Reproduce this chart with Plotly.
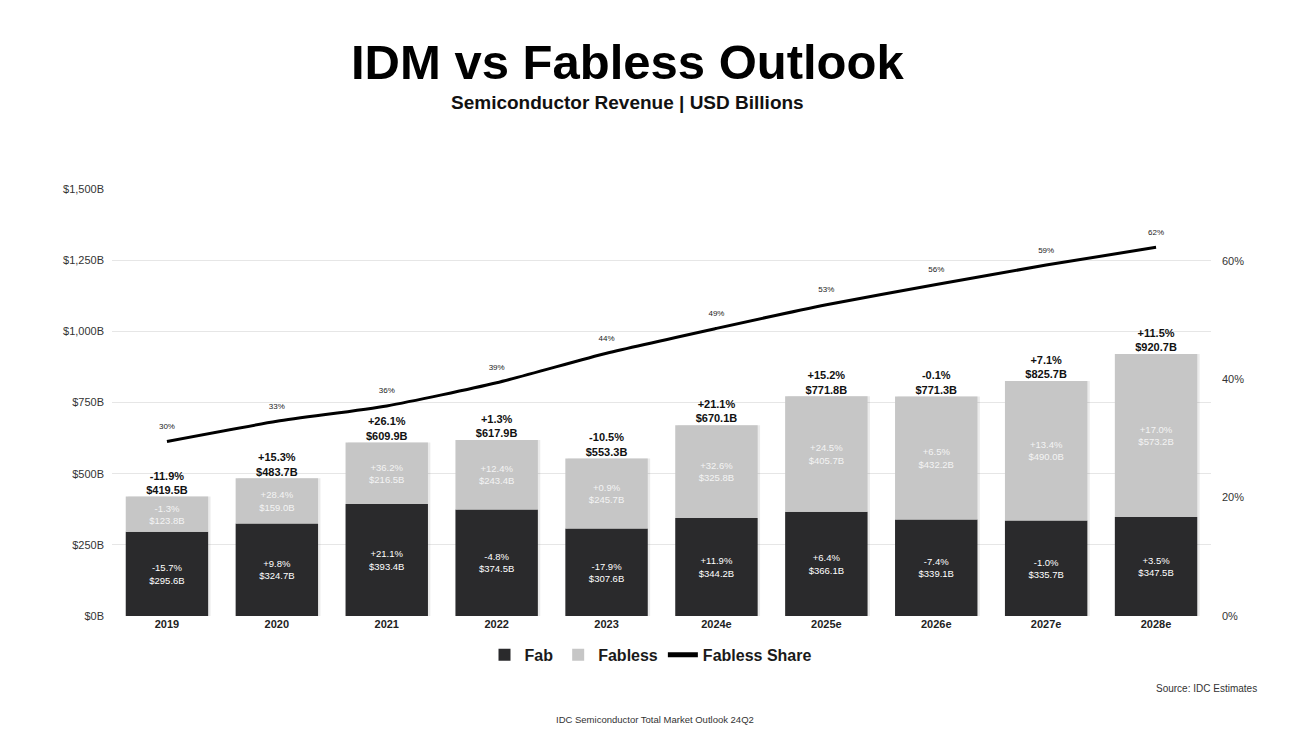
import plotly.graph_objects as go

years = ["2019", "2020", "2021", "2022", "2023", "2024e", "2025e", "2026e", "2027e", "2028e"]
fab = [295.6, 324.7, 393.4, 374.5, 307.6, 344.2, 366.1, 339.1, 335.7, 347.5]
fabless = [123.8, 159.0, 216.5, 243.4, 245.7, 325.8, 405.7, 432.2, 490.0, 573.2]
totals = [419.5, 483.7, 609.9, 617.9, 553.3, 670.1, 771.8, 771.3, 825.7, 920.7]
fab_growth = [-15.7, 9.8, 21.1, -4.8, -17.9, 11.9, 6.4, -7.4, -1.0, 3.5]
fabless_growth = [-1.3, 28.4, 36.2, 12.4, 0.9, 32.6, 24.5, 6.5, 13.4, 17.0]
total_growth = [-11.9, 15.3, 26.1, 1.3, -10.5, 21.1, 15.2, -0.1, 7.1, 11.5]
fabless_share = [0.295, 0.329, 0.355, 0.394, 0.444, 0.486, 0.526, 0.560, 0.593, 0.623]
left_ticks = [0, 250, 500, 750, 1000, 1250, 1500]
right_ticks = [0, 0.2, 0.4, 0.6]

FONT = "Liberation Sans, Arial, sans-serif"
FAB_C = "#2a2a2c"
FABLESS_C = "#c6c6c6"
BAR_W = 0.75


def pct(g):
    return f"{g:+.1f}%"


fig = go.Figure()

# soft drop shadow behind the stacks
fig.add_trace(go.Bar(
    x=years, y=totals, width=BAR_W, offset=-BAR_W / 2 + 0.022,
    marker=dict(color="rgba(0,0,0,0.08)", line=dict(width=0)),
    showlegend=False, hoverinfo="skip"))

fig.add_trace(go.Bar(
    name="Fab", x=years, y=fab, width=BAR_W, offset=-BAR_W / 2,
    marker=dict(color=FAB_C, line=dict(width=0)),
    text=[f"{pct(g)}<br>${v:.1f}B" for g, v in zip(fab_growth, fab)],
    texttemplate="%{text}",
    textposition="inside", insidetextanchor="middle", textangle=0,
    constraintext="none",
    textfont=dict(family=FONT, size=9.5, color="white")))

fig.add_trace(go.Bar(
    name="Fabless", x=years, y=fabless, base=fab, width=BAR_W, offset=-BAR_W / 2,
    marker=dict(color=FABLESS_C, line=dict(width=0)),
    text=[f"{pct(g)}<br>${v:.1f}B" for g, v in zip(fabless_growth, fabless)],
    texttemplate="%{text}",
    textposition="inside", insidetextanchor="middle", textangle=0,
    constraintext="none",
    textfont=dict(family=FONT, size=9.5, color="#f4f4f4")))

fig.add_trace(go.Scatter(
    name="Fabless Share", x=years, y=fabless_share, yaxis="y2",
    mode="lines+text",
    line=dict(color="black", width=3, shape="spline", smoothing=0.6),
    text=[f"{round(v * 100):.0f}%<br> " for v in fabless_share],
    textposition="top center",
    textfont=dict(family=FONT, size=8, color="#222")))

# total labels above bars
fig.add_trace(go.Scatter(
    x=years, y=totals, mode="text",
    text=[f"<b>{pct(g)}<br>${t:.1f}B</b>" for g, t in zip(total_growth, totals)],
    textposition="top center",
    textfont=dict(family=FONT, size=11, color="#111"),
    showlegend=False, hoverinfo="skip"))

fig.update_layout(
    width=1310, height=736,
    paper_bgcolor="white", plot_bgcolor="white",
    barmode="overlay",
    margin=dict(l=112, r=99, t=189, b=120),
    font=dict(family=FONT, color="#333"),
    showlegend=True,
    legend=dict(orientation="h", x=0.49, xanchor="center", y=-0.091, yanchor="middle",
                font=dict(family=FONT, size=16, color="#1a1a1a", weight="bold"),
                itemsizing="constant", traceorder="normal"),
    xaxis=dict(tickfont=dict(family=FONT, size=11, color="#222", weight="bold"),
               showgrid=False, showline=False, ticks=""),
    yaxis=dict(range=[0, 1500], tickvals=left_ticks,
               ticktext=[f"${v:,}B" for v in left_ticks],
               tickfont=dict(family=FONT, size=11, color="#333"),
               gridcolor="#e6e6e6", gridwidth=1, zeroline=False, showline=False,
               ticks="", ticklabelstandoff=7),
    yaxis2=dict(overlaying="y", side="right", range=[0, 0.7215],
                tickvals=right_ticks, ticktext=[f"{round(v * 100)}%" for v in right_ticks],
                tickfont=dict(family=FONT, size=11, color="#333"),
                showgrid=False, zeroline=False, showline=False,
                ticklabelstandoff=10),
)

# pixel-placed annotations converted to paper coordinates
L, R, T, B = 112, 99, 189, 120
pw, ph = 1310 - L - R, 736 - T - B


def px(x, y):
    return (x - L) / pw, ((736 - y) - B) / ph


for text, x, y, size, anchor, color in [
    ("<b>IDM vs Fabless Outlook</b>", 627, 62, 49, "center", "#000"),
    ("<b>Semiconductor Revenue | USD Billions</b>", 627, 102, 19, "center", "#111"),
    ("Source: IDC Estimates", 1259, 688, 10, "right", "#333"),
    ("IDC Semiconductor Total Market Outlook 24Q2", 655, 719, 9.5, "center", "#333"),
]:
    ax, ay = px(x, y)
    fig.add_annotation(text=text, x=ax, y=ay, xref="paper", yref="paper",
                       showarrow=False, font=dict(family=FONT, size=size, color=color),
                       xanchor=anchor, yanchor="middle")

fig.write_html("out.html")
